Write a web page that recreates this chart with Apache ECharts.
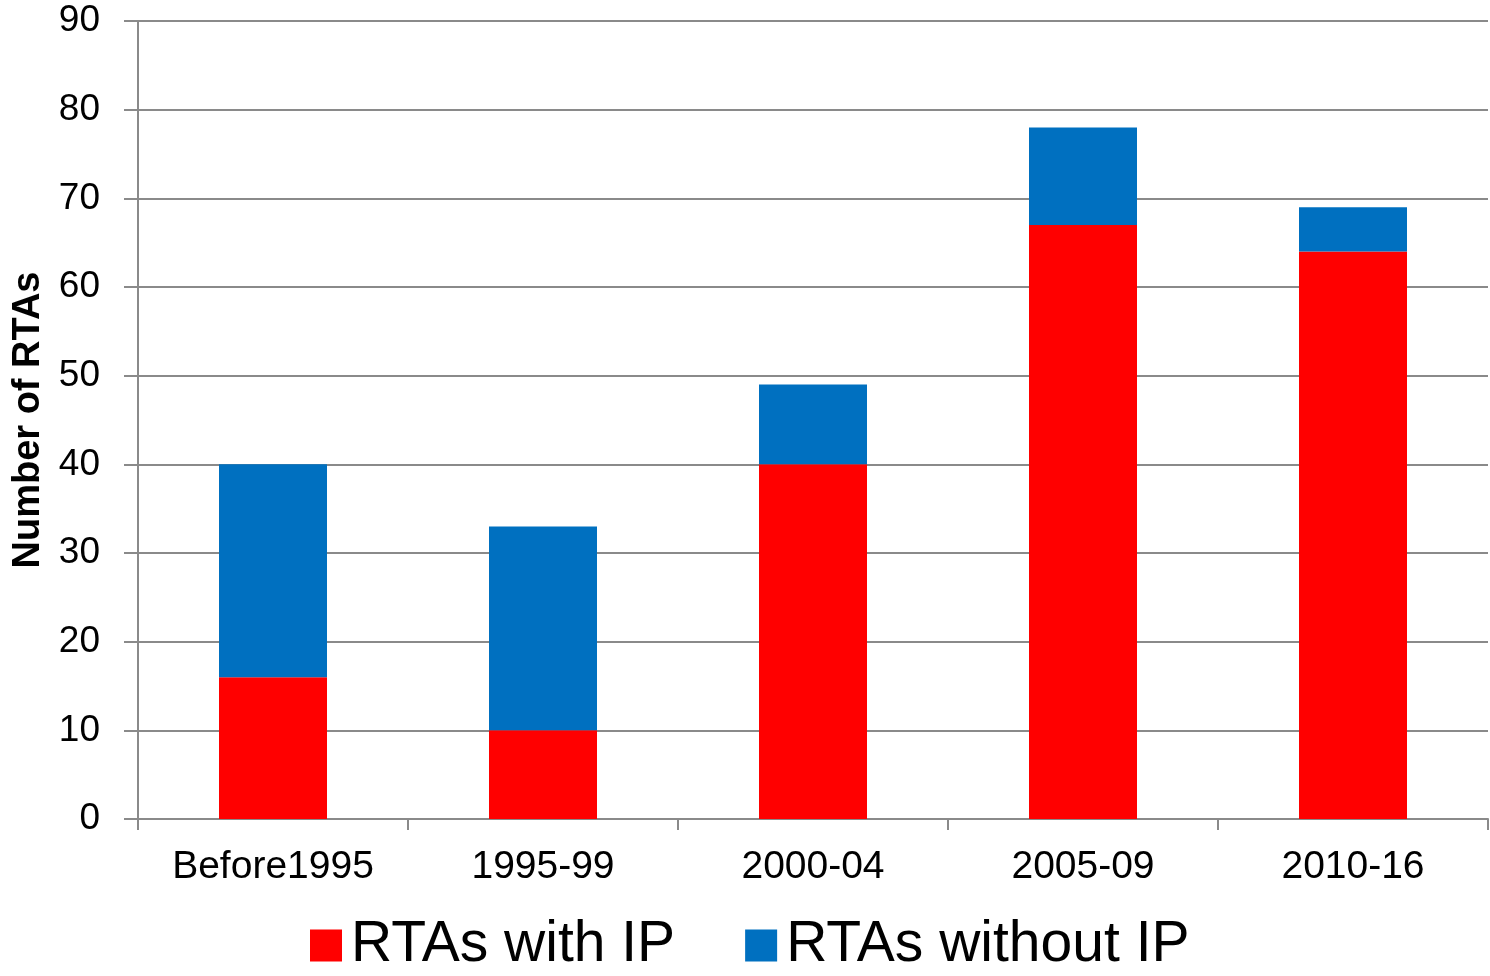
<!DOCTYPE html>
<html>
<head>
<meta charset="utf-8">
<script src="https://cdn.jsdelivr.net/npm/echarts@6/dist/echarts.min.js"></script>
<style>
html,body{margin:0;padding:0;background:#fff;}
#chart{width:1490px;height:976px;}
</style>
</head>
<body>
<div id="chart"></div>
<script>
const categories = ['Before1995', '1995-99', '2000-04', '2005-09', '2010-16'];
const withIP = [16, 10, 40, 67, 64];
const withoutIP = [24, 23, 9, 11, 5];
const seriesNames = ['RTAs with IP', 'RTAs without IP'];
const yTicks = { min: 0, max: 90, interval: 10 };

const FONT = '"Liberation Sans", Arial, sans-serif';
const chart = echarts.init(document.getElementById('chart'), null, { renderer: 'canvas' });
chart.setOption({
  animation: false,
  backgroundColor: '#ffffff',
  grid: { left: 138, right: 2, top: 21, bottom: 157, containLabel: false },
  legend: {
    data: seriesNames,
    left: 305,
    top: 912,
    icon: 'rect',
    itemWidth: 32,
    itemHeight: 32,
    itemGap: 70,
    textStyle: { fontFamily: FONT, fontSize: 57, color: '#000', padding: [0, 0, 0, 4] }
  },
  xAxis: {
    type: 'category',
    data: categories,
    axisLine: { lineStyle: { color: '#8a8a8a', width: 2 } },
    axisTick: { show: true, length: 11, alignWithLabel: false, lineStyle: { color: '#8a8a8a', width: 2 } },
    axisLabel: { fontFamily: FONT, fontSize: 39, color: '#000', margin: 29 }
  },
  yAxis: {
    type: 'value',
    min: yTicks.min, max: yTicks.max, interval: yTicks.interval,
    name: 'Number of RTAs',
    nameLocation: 'middle',
    nameGap: 88,
    nameTextStyle: { fontFamily: FONT, fontSize: 38, fontWeight: 'bold', color: '#000' },
    axisLine: { show: true, lineStyle: { color: '#8a8a8a', width: 2 } },
    axisTick: { show: true, length: 14, lineStyle: { color: '#8a8a8a', width: 2 } },
    axisLabel: { fontFamily: FONT, fontSize: 37, color: '#000', margin: 38 },
    splitLine: { show: true, lineStyle: { color: '#8a8a8a', width: 2 } }
  },
  series: [
    { name: seriesNames[0], type: 'bar', stack: 'total', data: withIP, barWidth: '40%', itemStyle: { color: '#ff0000' } },
    { name: seriesNames[1], type: 'bar', stack: 'total', data: withoutIP, barWidth: '40%', itemStyle: { color: '#0070c0' } }
  ]
});
</script>
</body>
</html>
